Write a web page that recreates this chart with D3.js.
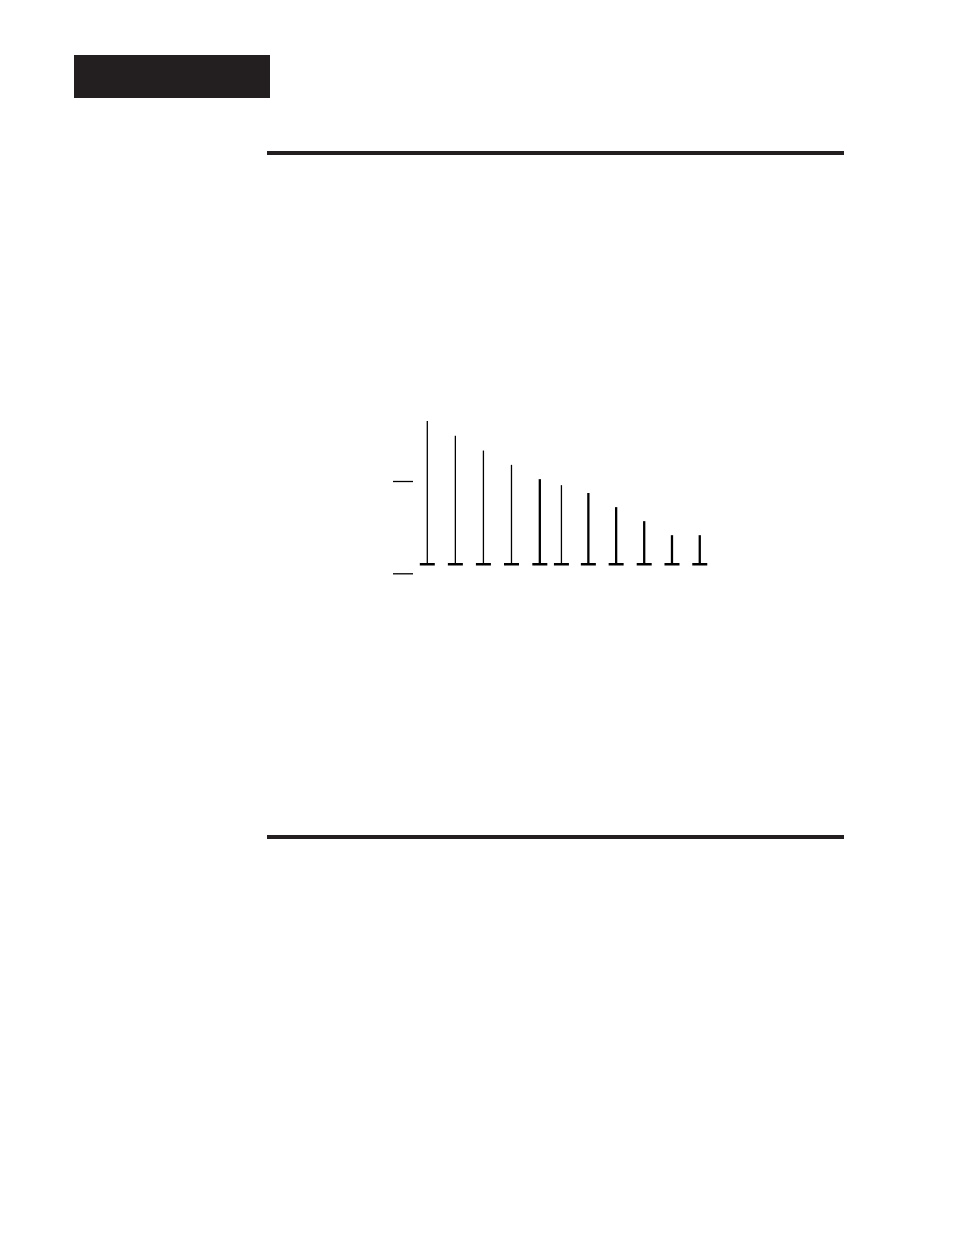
<!DOCTYPE html>
<html>
<head>
<meta charset="utf-8">
<script src="https://cdn.jsdelivr.net/npm/d3@7"></script>
<style>
  html, body { margin: 0; padding: 0; background: #fff; }
  svg { display: block; }
</style>
</head>
<body>
<svg id="page" width="954" height="1235"></svg>
<script>
// spectral lines
var positions = [1, 2, 3, 4, 5.01, 5.78, 6.74, 7.73, 8.73, 9.72, 10.71];
var levels = [16.5, 14.9, 13.3, 11.75, 10.2, 9.55, 8.7, 7.17, 5.65, 4.13, 4.13];
var lineKind = ['a', 'a', 'a', 'a', 'b', 'a', 'b', 'b', 'b', 'b', 'b'];
var baseLevel = 0.98;
var yTicks = [0, 10];

var ink = '#231f20';
var svg = d3.select('#page');

// header block
svg.append('rect')
    .attr('x', 74).attr('y', 55)
    .attr('width', 196).attr('height', 43)
    .attr('fill', ink);

// section rules
function rule(y) {
  svg.append('rect')
      .attr('x', 267).attr('y', y)
      .attr('width', 577).attr('height', 4)
      .attr('fill', ink);
}
rule(151);
rule(835);

var x = d3.scaleLinear().domain([1, 11]).range([427.3, 707.9]);
var y = d3.scaleLinear().domain([0, 10]).range([573.3, 481]);

// y axis: just short ticks, no line
var yAxis = d3.axisLeft(y)
    .tickValues(yTicks)
    .tickSize(20)
    .tickFormat('');
var ag = svg.append('g')
    .attr('transform', 'translate(413,0)')
    .call(yAxis);
ag.select('.domain').remove();
ag.selectAll('.tick line').attr('stroke', '#000').attr('stroke-width', 1.3);

var chart = svg.append('g');

var rows = positions.map(function (p, i) {
  return { x: p, v: levels[i], kind: lineKind[i] };
});

chart.selectAll('line.stem')
  .data(rows)
  .enter().append('line')
    .attr('class', 'stem')
    .attr('x1', function (d) { return x(d.x); })
    .attr('x2', function (d) { return x(d.x); })
    .attr('y1', y(baseLevel))
    .attr('y2', function (d) { return y(d.v); })
    .attr('stroke', '#000')
    .attr('stroke-width', function (d) { return d.kind == 'a' ? 1.3 : 2.3; });

chart.selectAll('line.foot')
  .data(rows)
  .enter().append('line')
    .attr('class', 'foot')
    .attr('x1', function (d) { return x(d.x) - 7.5; })
    .attr('x2', function (d) { return x(d.x) + 7.5; })
    .attr('y1', y(baseLevel))
    .attr('y2', y(baseLevel))
    .attr('stroke', '#000')
    .attr('stroke-width', 2.5);
</script>
</body>
</html>
